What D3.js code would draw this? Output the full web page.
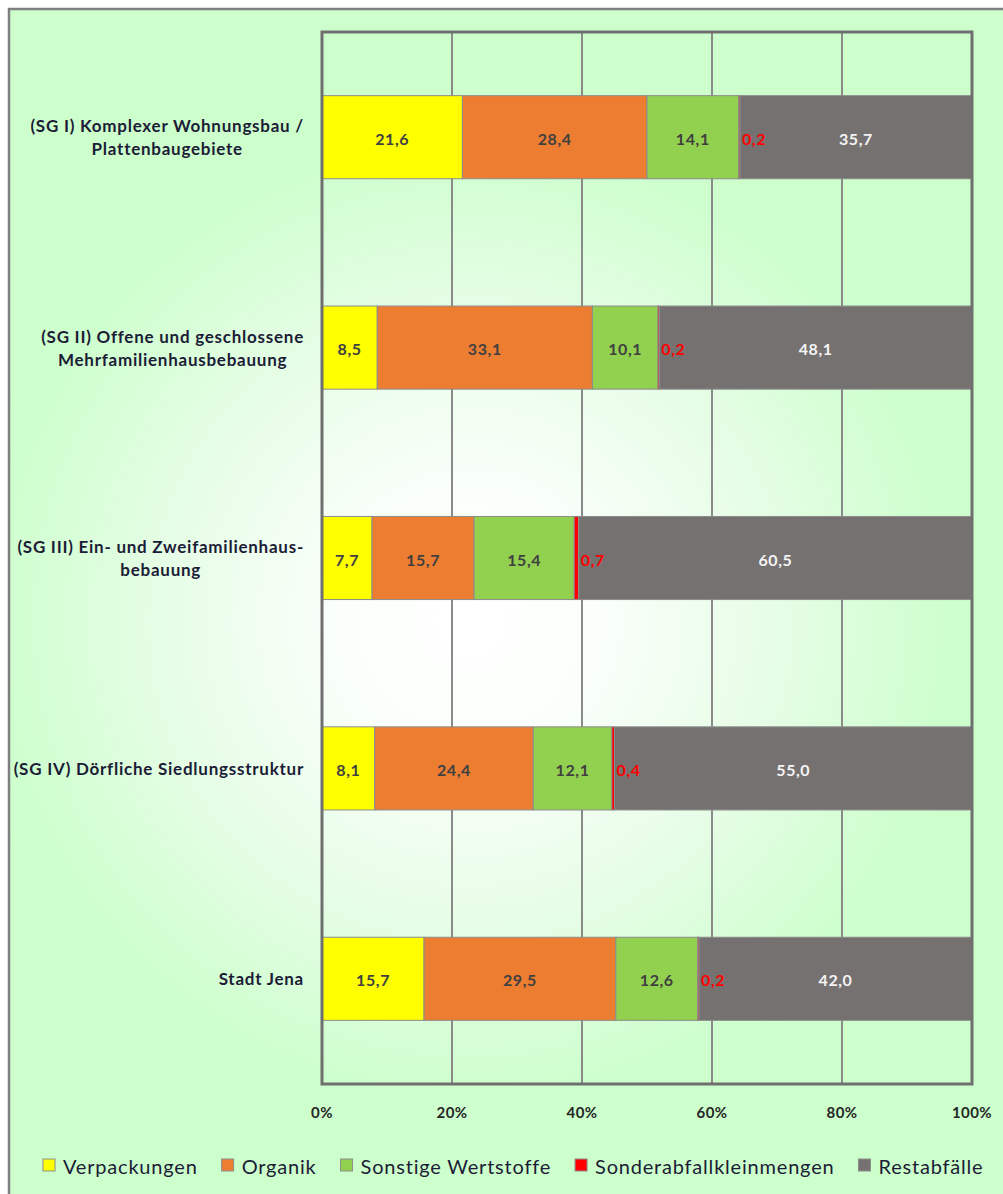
<!DOCTYPE html>
<html>
<head>
<meta charset="utf-8">
<script src="https://cdn.jsdelivr.net/npm/d3@7"></script>
<style>
  html, body { margin: 0; padding: 0; background: #ffffff; }
  svg { display: block; }
</style>
</head>
<body>
<svg id="chart" width="1003" height="1194"></svg>
<script>
// Abfallzusammensetzung nach Siedlungsstrukturgebieten (Anteile in %)
const categories = [
  ["(SG I) Komplexer Wohnungsbau /", "Plattenbaugebiete"],
  ["(SG II) Offene und geschlossene", "Mehrfamilienhausbebauung"],
  ["(SG III) Ein- und Zweifamilienhaus-", "bebauung"],
  ["(SG IV) Dörfliche Siedlungsstruktur"],
  ["Stadt Jena"]
];
const seriesNames = ["Verpackungen", "Organik", "Sonstige Wertstoffe", "Sonderabfallkleinmengen", "Restabfälle"];
const verpackungen = [21.6, 8.5, 7.7, 8.1, 15.7];
const organik      = [28.4, 33.1, 15.7, 24.4, 29.5];
const wertstoffe   = [14.1, 10.1, 15.4, 12.1, 12.6];
const sonderabfall = [0.2, 0.2, 0.7, 0.4, 0.2];
const restabfaelle = [35.7, 48.1, 60.5, 55.0, 42.0];
const xTicks = [0, 20, 40, 60, 80, 100];

const seriesValues = [verpackungen, organik, wertstoffe, sonderabfall, restabfaelle];
const colors = ["#ffff00", "#ed7d31", "#92d050", "#ff0000", "#767171"];
const labelColors = ["#404040", "#404040", "#404040", "#ff0000", "#f4f4f4"];

const FONT = "Lato, 'Open Sans', sans-serif";
const svg = d3.select("#chart");

// Hintergrund: radialer Verlauf von Weiß nach Hellgrün
const defs = svg.append("defs");
const grad = defs.append("radialGradient")
  .attr("id", "bg")
  .attr("gradientUnits", "userSpaceOnUse")
  .attr("cx", 470).attr("cy", 620).attr("r", 560);
grad.append("stop").attr("offset", 0).attr("stop-color", "#ffffff");
grad.append("stop").attr("offset", 0.22).attr("stop-color", "#fbfffb");
grad.append("stop").attr("offset", 0.55).attr("stop-color", "#e6fde6");
grad.append("stop").attr("offset", 0.85).attr("stop-color", "#ceffce");
grad.append("stop").attr("offset", 1).attr("stop-color", "#ccffcc");

svg.append("rect")
  .attr("x", 9).attr("y", 9).attr("width", 1010).attr("height", 1200)
  .attr("fill", "url(#bg)")
  .attr("stroke", "#7f7f7f").attr("stroke-width", 2.5);

const plot = { left: 322, right: 972, top: 32, bottom: 1084 };

const x = d3.scaleLinear().domain([0, 100]).range([plot.left, plot.right]);
const y = d3.scaleBand()
  .domain(d3.range(categories.length))
  .range([plot.top, plot.bottom])
  .paddingInner(0.605)
  .paddingOuter(0.3025);

// Gitternetzlinien
svg.append("g")
  .selectAll("line")
  .data(xTicks.slice(1, -1))
  .join("line")
  .attr("x1", d => x(d)).attr("x2", d => x(d))
  .attr("y1", plot.top).attr("y2", plot.bottom)
  .attr("stroke", "#8a8a8a").attr("stroke-width", 2);

// Gestapelte Balken
const rows = categories.map((c, i) => {
  const o = { idx: i };
  seriesNames.forEach((s, j) => { o[s] = seriesValues[j][i]; });
  return o;
});
const stack = d3.stack().keys(seriesNames)(rows);

const layers = svg.append("g").selectAll("g")
  .data(stack)
  .join("g")
  .attr("fill", (d, j) => colors[j]);

layers.selectAll("rect")
  .data(d => d)
  .join("rect")
  .attr("x", d => x(d[0]))
  .attr("width", d => x(d[1]) - x(d[0]))
  .attr("y", d => y(d.data.idx))
  .attr("height", y.bandwidth())
  .attr("stroke", "#8c8c8c")
  .attr("stroke-width", 1);

// Rahmen der Zeichenfläche
svg.append("rect")
  .attr("x", plot.left).attr("y", plot.top)
  .attr("width", plot.right - plot.left).attr("height", plot.bottom - plot.top)
  .attr("fill", "none").attr("stroke", "#6f6f6f").attr("stroke-width", 3);

// Datenbeschriftungen
const fmt = v => v.toFixed(1).replace(".", ",");
stack.forEach((layer, j) => {
  svg.append("g").selectAll("text")
    .data(layer)
    .join("text")
    .attr("x", d => j === 3 ? x(d[1]) + 2 : (x(d[0]) + x(d[1])) / 2)
    .attr("y", d => y(d.data.idx) + y.bandwidth() / 2 + 1)
    .attr("text-anchor", j === 3 ? "start" : "middle")
    .attr("dominant-baseline", "central")
    .attr("font-family", FONT)
    .attr("font-weight", "bold")
    .attr("font-size", 16)
    .attr("letter-spacing", 0.6)
    .attr("fill", labelColors[j])
    .text(d => fmt(d[1] - d[0]));
});

// Kategorienbeschriftungen (zentriert, rechtsbündiger Block)
const catG = svg.append("g");
categories.forEach((lines, i) => {
  const cy = y(i) + y.bandwidth() / 2;
  const lh = 23;
  const t = catG.append("text")
    .attr("font-family", FONT)
    .attr("font-weight", "bold")
    .attr("font-size", 17)
    .attr("letter-spacing", 0.75)
    .attr("fill", "#1c1c36")
    .attr("text-anchor", "middle");
  const spans = lines.map((ln, k) => t.append("tspan")
    .attr("y", cy + (k - (lines.length - 1) / 2) * lh)
    .attr("dominant-baseline", "central")
    .text(ln));
  const maxW = d3.max(spans, s => s.node().getComputedTextLength());
  spans.forEach(s => s.attr("x", 304 - maxW / 2));
});

// X-Achsenbeschriftungen
svg.append("g").selectAll("text")
  .data(xTicks)
  .join("text")
  .attr("x", d => x(d))
  .attr("y", 1112)
  .attr("text-anchor", "middle")
  .attr("dominant-baseline", "central")
  .attr("font-family", FONT)
  .attr("font-weight", "bold")
  .attr("font-size", 15)
  .attr("letter-spacing", 0.4)
  .attr("fill", "#262626")
  .text(d => d + "%");

// Legende
const legend = svg.append("g");
let lx = 43;
seriesNames.forEach((name, j) => {
  legend.append("rect")
    .attr("x", lx).attr("y", 1159)
    .attr("width", 12).attr("height", 12)
    .attr("fill", colors[j])
    .attr("stroke", "#8c8c8c").attr("stroke-width", 1);
  const t = legend.append("text")
    .attr("x", lx + 20).attr("y", 1166)
    .attr("dominant-baseline", "central")
    .attr("font-family", FONT)
    .attr("font-size", 20)
    .attr("letter-spacing", 0.8)
    .attr("fill", "#1c1c36")
    .text(name);
  lx += 20 + t.node().getComputedTextLength() + 24;
});
</script>
</body>
</html>
